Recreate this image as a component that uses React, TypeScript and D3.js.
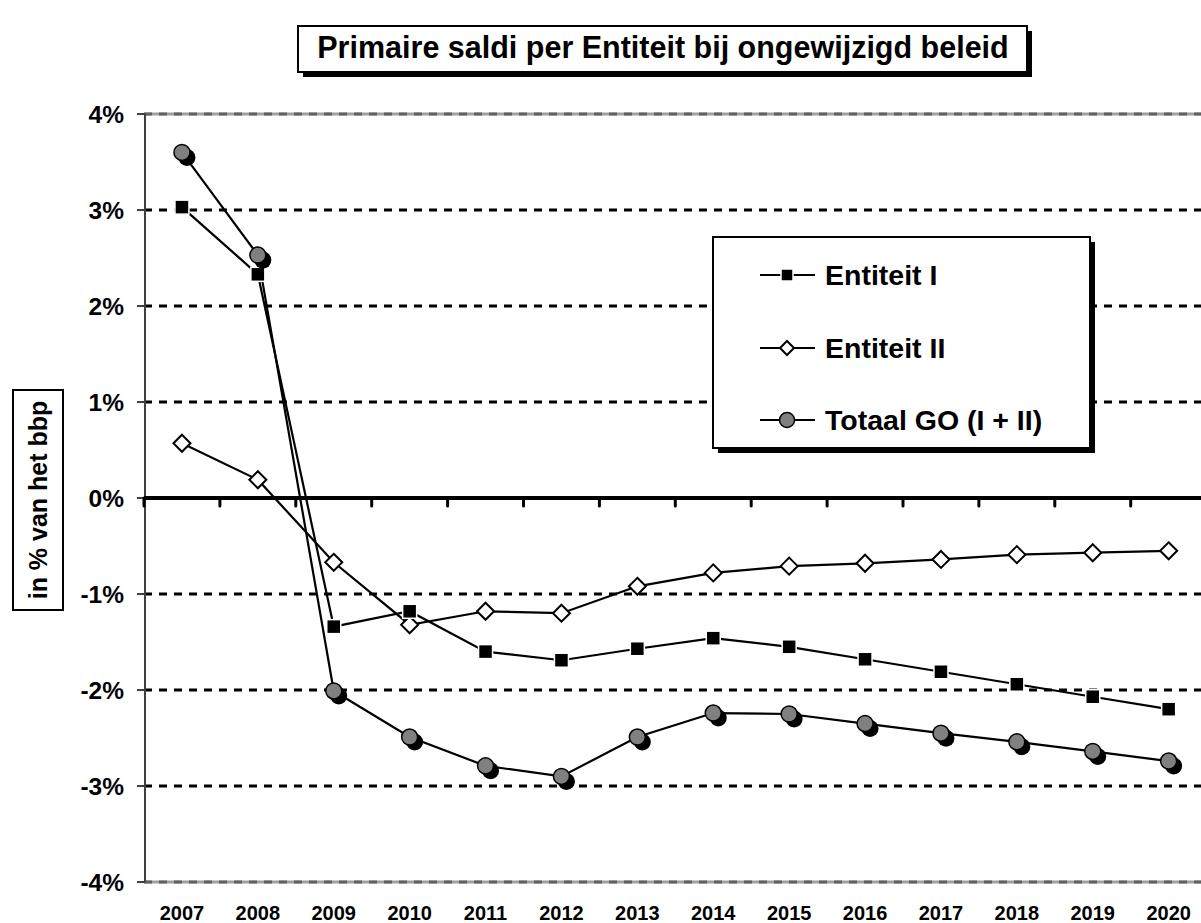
import React, { useEffect, useRef } from 'react';
import * as d3 from 'd3';

const years = ['2007', '2008', '2009', '2010', '2011', '2012', '2013', '2014', '2015', '2016', '2017', '2018', '2019', '2020'];
const entiteitI = [3.03, 2.33, -1.34, -1.18, -1.60, -1.69, -1.57, -1.46, -1.55, -1.68, -1.81, -1.94, -2.07, -2.20];
const entiteitII = [0.57, 0.19, -0.67, -1.32, -1.18, -1.20, -0.92, -0.78, -0.71, -0.68, -0.64, -0.59, -0.57, -0.55];
const totaalGO = [3.60, 2.53, -2.01, -2.49, -2.79, -2.90, -2.49, -2.24, -2.25, -2.35, -2.45, -2.54, -2.64, -2.74];
const yTicks = [-4, -3, -2, -1, 0, 1, 2, 3, 4];
const legendLabels = ['Entiteit I', 'Entiteit II', 'Totaal GO (I + II)'];

const FONT = 'Arial, "Liberation Sans", Helvetica, sans-serif';

const App = () => {
    const ref = useRef<SVGSVGElement>(null);

    useEffect(() => {
        drawChart();
    }, []);

    const drawChart = () => {
        const W = 1201, H = 923;
        const left = 144, step = 75.9;
        const svg = d3.select(ref.current);
        svg.selectAll('*').remove();
        svg.attr('width', W).attr('height', H);

        svg.append('rect').attr('width', W).attr('height', H).style('fill', 'white');

        const x = d3.scaleBand().domain(years).range([left, left + step * years.length]);
        const y = d3.scaleLinear().domain([-4, 4]).range([882, 114]);
        const cx = (d: string) => (x(d) as number) + x.bandwidth() / 2;

        // gridlines
        yTicks.forEach(t => {
            if (t === 0) return;
            if (Math.abs(t) === 4) {
                svg.append('line').attr('x1', left).attr('x2', W).attr('y1', y(t)).attr('y2', y(t))
                    .style('stroke', '#a0a0a0').style('stroke-width', 3);
                svg.append('line').attr('x1', left).attr('x2', W).attr('y1', y(t)).attr('y2', y(t))
                    .style('stroke', '#606060').style('stroke-width', 3).style('stroke-dasharray', '8,7');
            } else {
                svg.append('line').attr('x1', left).attr('x2', W).attr('y1', y(t)).attr('y2', y(t))
                    .style('stroke', 'black').style('stroke-width', 3).style('stroke-dasharray', '8,7');
            }
        });

        // left axis
        svg.append('line').attr('x1', left + 1).attr('x2', left + 1).attr('y1', y(4)).attr('y2', y(-4))
            .style('stroke', '#404040').style('stroke-width', 2);
        yTicks.forEach(t => {
            svg.append('line').attr('x1', 137).attr('x2', left + 1).attr('y1', y(t)).attr('y2', y(t))
                .style('stroke', '#404040').style('stroke-width', 2);
            svg.append('text').attr('x', 124).attr('y', y(t) + 9).attr('text-anchor', 'end')
                .style('font-family', FONT).style('font-weight', 'bold').style('font-size', '24.5px')
                .text(t + '%');
        });

        // zero line with category ticks
        svg.append('line').attr('x1', left).attr('x2', W).attr('y1', y(0)).attr('y2', y(0))
            .style('stroke', 'black').style('stroke-width', 4);
        years.forEach(d => {
            const xx = x(d) as number;
            svg.append('line').attr('x1', xx).attr('x2', xx).attr('y1', y(0)).attr('y2', y(0) + 8)
                .style('stroke', 'black').style('stroke-width', 3).style('stroke-linecap', 'round');
        });

        // x labels
        years.forEach(d => {
            svg.append('text').attr('x', cx(d)).attr('y', 920).attr('text-anchor', 'middle')
                .style('font-family', FONT).style('font-weight', 'bold').style('font-size', '20px')
                .text(d);
        });

        const line = d3.line<number>()
            .x((_, i) => cx(years[i]))
            .y(v => y(v));

        [entiteitI, entiteitII, totaalGO].forEach(series => {
            svg.append('path').attr('d', line(series) as string)
                .style('fill', 'none').style('stroke', 'black').style('stroke-width', 2.2);
        });

        // markers
        entiteitII.forEach((v, i) => {
            const px = cx(years[i]), py = y(v);
            svg.append('path')
                .attr('d', `M${px},${py - 8.5}L${px + 8.5},${py}L${px},${py + 8.5}L${px - 8.5},${py}Z`)
                .style('fill', 'white').style('stroke', 'black').style('stroke-width', 2);
        });
        entiteitI.forEach((v, i) => {
            const px = cx(years[i]), py = y(v);
            svg.append('rect').attr('x', px - 7).attr('y', py - 7).attr('width', 14).attr('height', 14)
                .style('fill', 'black').style('stroke', 'white').style('stroke-width', 1.5);
        });
        totaalGO.forEach((v, i) => {
            const px = cx(years[i]), py = y(v);
            svg.append('circle').attr('cx', px + 5).attr('cy', py + 5).attr('r', 8.5).style('fill', 'black');
            svg.append('circle').attr('cx', px).attr('cy', py).attr('r', 8)
                .style('fill', '#808080').style('stroke', 'black').style('stroke-width', 1.5);
        });

        // title
        svg.append('rect').attr('x', 303).attr('y', 31).attr('width', 729).attr('height', 46).style('fill', 'black');
        svg.append('rect').attr('x', 298).attr('y', 26).attr('width', 729).attr('height', 46)
            .style('fill', 'white').style('stroke', 'black').style('stroke-width', 2);
        svg.append('text').attr('x', 663).attr('y', 58).attr('text-anchor', 'middle')
            .style('font-family', FONT).style('font-weight', 'bold').style('font-size', '30.5px')
            .text('Primaire saldi per Entiteit bij ongewijzigd beleid');

        // y axis title
        svg.append('rect').attr('x', 13).attr('y', 390).attr('width', 50).attr('height', 220)
            .style('fill', 'white').style('stroke', 'black').style('stroke-width', 2);
        svg.append('text').attr('transform', 'translate(47,500) rotate(-90)').attr('text-anchor', 'middle')
            .style('font-family', FONT).style('font-weight', 'bold').style('font-size', '25px')
            .text('in % van het bbp');

        // legend
        const lg = svg.append('g');
        lg.append('rect').attr('x', 718).attr('y', 242).attr('width', 377).attr('height', 211).style('fill', 'black');
        lg.append('rect').attr('x', 713).attr('y', 237).attr('width', 377).attr('height', 211)
            .style('fill', 'white').style('stroke', 'black').style('stroke-width', 2);
        const rowsY = [275, 348, 420];
        legendLabels.forEach((label, i) => {
            const ly = rowsY[i];
            lg.append('line').attr('x1', 760).attr('x2', 815).attr('y1', ly).attr('y2', ly)
                .style('stroke', 'black').style('stroke-width', 2.2);
            const mx = 787;
            if (i === 0) {
                lg.append('rect').attr('x', mx - 6).attr('y', ly - 6).attr('width', 12).attr('height', 12)
                    .style('fill', 'black').style('stroke', 'white').style('stroke-width', 1.5);
            } else if (i === 1) {
                lg.append('path').attr('d', `M${mx},${ly - 7}L${mx + 7},${ly}L${mx},${ly + 7}L${mx - 7},${ly}Z`)
                    .style('fill', 'white').style('stroke', 'black').style('stroke-width', 2);
            } else {
                lg.append('circle').attr('cx', mx).attr('cy', ly).attr('r', 7.5)
                    .style('fill', '#808080').style('stroke', 'black').style('stroke-width', 1.5);
            }
            lg.append('text').attr('x', 825).attr('y', ly + 10)
                .style('font-family', FONT).style('font-weight', 'bold').style('font-size', '28.5px')
                .text(label);
        });
    };

    return <svg ref={ref} style={{ position: 'absolute', left: 0, top: 0 }}></svg>;
};

export default App;
